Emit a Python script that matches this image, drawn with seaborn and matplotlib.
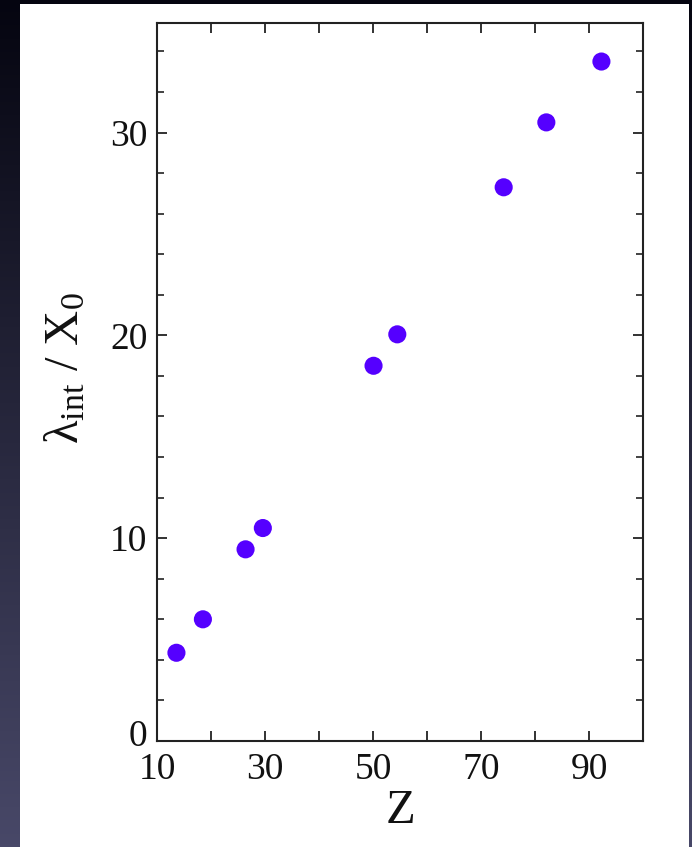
import numpy as np
import pandas as pd
import matplotlib
matplotlib.use("Agg")
import matplotlib.pyplot as plt
import matplotlib.transforms as mtransforms
from matplotlib.patches import Rectangle
from matplotlib.ticker import MultipleLocator
import seaborn as sns

# Data
Z = [13.6, 18.5, 26.4, 29.6, 50.1, 54.5, 74.2, 82.1, 92.3]
ratio = [4.35, 6.0, 9.45, 10.5, 18.5, 20.05, 27.3, 30.5, 33.5]
x_ticklabels = [10, 30, 50, 70, 90]
y_ticklabels = [0, 10, 20, 30]

df = pd.DataFrame({"Z": Z, "ratio": ratio})

sns.set_theme(style="ticks")
plt.rcParams["font.family"] = ["Liberation Serif", "DejaVu Serif"]
plt.rcParams["mathtext.fontset"] = "custom"
plt.rcParams["mathtext.rm"] = "Liberation Serif"
plt.rcParams["mathtext.it"] = "Liberation Serif:italic"

W, H = 692, 847
fig = plt.figure(figsize=(W / 100, H / 100), dpi=100)
fig.patch.set_facecolor("black")

# background: slide gradient + white panel
bg = fig.add_axes([0, 0, 1, 1])
bg.set_xlim(0, 1)
bg.set_ylim(0, 1)
top = np.array([5, 5, 16]) / 255
bot = np.array([72, 72, 104]) / 255
t = np.linspace(0, 1, 256)[:, None]
grad = top[None, :] * (1 - t) + bot[None, :] * t
grad = grad[:, None, :].repeat(2, axis=1)
bg.imshow(grad, extent=[0, 1, 0, 1], aspect="auto", origin="upper", zorder=0)
bg.add_patch(Rectangle((20 / W, 0), (689 - 20) / W, (H - 4) / H,
                       facecolor="white", edgecolor="none", zorder=1))
bg.axis("off")

ax = fig.add_axes([157 / W, 1 - 741 / H, (643 - 157) / W, (741 - 23) / H])
ax.set_facecolor("white")
sns.scatterplot(data=df, x="Z", y="ratio", ax=ax, s=170, color="#5500ff",
                edgecolor="none", zorder=3, legend=False)

ax.set_xlim(10, 100)
ax.set_ylim(0, 35.4)
xt = list(range(10, 101, 10))
ax.set_xticks(xt)
ax.set_xticklabels([str(v) if v in x_ticklabels else "" for v in xt])
ax.set_yticks(y_ticklabels)
ax.set_yticklabels([str(v) for v in y_ticklabels])
ax.yaxis.set_minor_locator(MultipleLocator(2))

ax.tick_params(axis="both", which="major", direction="in", length=7, width=1.3,
               top=True, right=True, labelsize=27, color="#222222", labelcolor="#111111")
ax.tick_params(axis="x", which="major", pad=8)
ax.tick_params(axis="y", which="major", pad=7)
ax.tick_params(axis="both", which="minor", direction="in", length=5, width=1.2,
               top=True, right=True, color="#222222")
for sp in ax.spines.values():
    sp.set_linewidth(1.5)
    sp.set_color("#222222")

# the "0" label sits slightly above the axis corner in the reference
offset = mtransforms.ScaledTranslation(0, 8 / 100, fig.dpi_scale_trans)
for lab in ax.get_yticklabels():
    if lab.get_text() == "0":
        lab.set_transform(lab.get_transform() + offset)

ax.set_xlabel("Z", fontsize=35, color="#111111", labelpad=2)
ax.set_ylabel("λ$_{\\rm int}$ / X$_0$", fontsize=35, color="#111111")
ax.yaxis.set_label_coords(-0.142, 0.52)

fig.savefig("out.png", dpi=100)
